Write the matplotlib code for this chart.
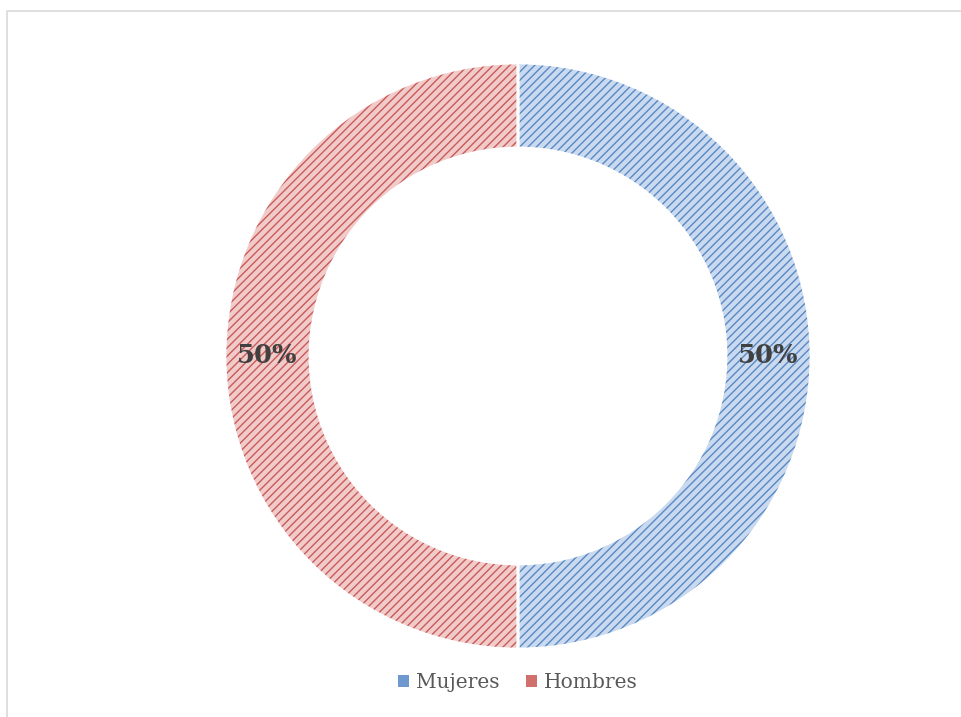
import matplotlib.pyplot as plt
from matplotlib.lines import Line2D

# datos
categorias = ['Mujeres', 'Hombres']
valores = [50, 50]
relleno = ['#c9daf0', '#f1cbca']
trama = ['#5a88c2', '#c85a57']
marcador = ['#6f98cf', '#d06f6c']

W, H = 962, 717
fig = plt.figure(figsize=(W / 100, H / 100), dpi=100)
ax = fig.add_axes([0, 0, 1, 1])

centro = (518, H - 356)
radio = 293
ancho = 85

plt.rcParams['hatch.linewidth'] = 1.0

# relleno claro
ax.pie(valores, startangle=90, counterclock=False, colors=relleno,
       center=centro, radius=radio,
       wedgeprops=dict(width=ancho, linewidth=0))

# trama diagonal
cunas, _ = ax.pie(valores, startangle=90, counterclock=False, center=centro,
                  radius=radio,
                  wedgeprops=dict(width=ancho, linewidth=0, fill=False))
for c, col in zip(cunas, trama):
    c.set_hatch('////')
    c.set_edgecolor(col)

# separadores blancos + etiquetas
_, _, textos = ax.pie(valores, startangle=90, counterclock=False, center=centro,
                      radius=radio, autopct='%1.0f%%',
                      pctdistance=(radio - ancho / 2) / radio,
                      wedgeprops=dict(width=ancho, linewidth=2, fill=False,
                                      edgecolor='white'))
for t in textos:
    t.set_fontfamily('DejaVu Serif')
    t.set_fontweight('bold')
    t.set_fontsize(18.5)
    t.set_color('#404040')

ax.set_xlim(0, W)
ax.set_ylim(0, H)
ax.set_aspect('equal')
ax.axis('off')

# leyenda
manejadores = []
for cat, col in zip(categorias, marcador):
    manejadores.append(plt.Rectangle((0, 0), 1, 1, facecolor=col, edgecolor=col,
                                     linewidth=0, label=cat))
leg = fig.legend(handles=manejadores, loc='center', ncol=2, frameon=False,
                 bbox_to_anchor=(518 / W, 1 - 683 / H),
                 handlelength=0.55, handleheight=0.55, handletextpad=0.35,
                 columnspacing=1.3,
                 prop={'family': 'DejaVu Serif', 'size': 14.5})
for t in leg.get_texts():
    t.set_color('#595959')

# borde del grafico
fig.add_artist(Line2D([7 / W, 7 / W, 1], [0, 1 - 11 / H, 1 - 11 / H],
                      color='#d9d9d9', linewidth=1.2))

fig.savefig('out.png', dpi=100)
